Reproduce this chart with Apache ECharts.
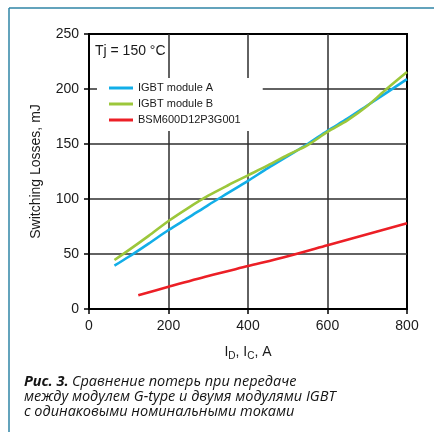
<!DOCTYPE html>
<html>
<head>
<meta charset="utf-8">
<style>
  html, body { margin: 0; padding: 0; background: #fff; }
  #chart { width: 434px; height: 432px; }
</style>
<script src="https://cdn.jsdelivr.net/npm/echarts@6/dist/echarts.min.js"></script>
</head>
<body>
<div id="chart"></div>
<script>
// Switching losses vs. current at Tj = 150 °C
const seriesNames = ['IGBT module A', 'IGBT module B', 'BSM600D12P3G001'];

const currentA = [64, 100, 150, 200, 250, 300, 350, 400, 450, 500, 550, 600, 650, 700, 750, 800];
const lossesA  = [39.4, 47.5, 59.5, 71.8, 83, 94.5, 105.5, 116.5, 128, 139, 150, 162, 173, 185, 197, 209];

const currentB = [64, 100, 150, 200, 250, 300, 350, 400, 450, 500, 550, 600, 650, 700, 750, 800];
const lossesB  = [44.5, 53.5, 66.5, 80, 92, 103, 112.5, 121.5, 130.5, 140, 149, 161, 171.5, 184.5, 200.5, 215.5];

const currentG = [124, 200, 300, 400, 500, 600, 700, 800];
const lossesG  = [12.5, 20.2, 30, 39, 48, 58, 68, 78];

const xTicks = { min: 0, max: 800, step: 200 };
const yTicks = { min: 0, max: 250, step: 50 };

const colors = ['#12aee8', '#9cc73b', '#ec1f26'];

function pairs(xs, ys) { return xs.map((x, i) => [x, ys[i]]); }

const chart = echarts.init(document.getElementById('chart'), null, { renderer: 'canvas' });

const axisText = { color: '#1a1a1a', fontSize: 14, fontFamily: 'Liberation Sans, Arial, sans-serif' };

chart.setOption({
  animation: false,
  backgroundColor: '#fff',
  grid: {
    left: 89, right: 27, top: 34, bottom: 123,
    show: true, borderColor: '#000', borderWidth: 2, backgroundColor: 'transparent'
  },
  xAxis: {
    type: 'value', min: xTicks.min, max: xTicks.max, interval: xTicks.step,
    name: '{n|I}{s|D}{n|, I}{s|C}{n|, A}',
    nameLocation: 'middle', nameGap: 34,
    nameTextStyle: {
      rich: {
        n: { fontSize: 14, color: '#1a1a1a', fontFamily: 'Liberation Sans, Arial, sans-serif' },
        s: { fontSize: 10, color: '#1a1a1a', fontFamily: 'Liberation Sans, Arial, sans-serif', padding: [8, 0, 0, 0] }
      }
    },
    axisLine: { show: true, lineStyle: { color: '#000', width: 2 } },
    axisTick: { show: true, length: 5, inside: false, lineStyle: { color: '#000', width: 1.5 } },
    axisLabel: Object.assign({ margin: 10 }, axisText),
    splitLine: { show: true, showMinLine: false, showMaxLine: false, lineStyle: { color: '#2e2e2e', width: 1.5 } }
  },
  yAxis: {
    type: 'value', min: yTicks.min, max: yTicks.max, interval: yTicks.step,
    name: 'Switching Losses, mJ',
    nameLocation: 'middle', nameGap: 46,
    nameTextStyle: axisText,
    axisLine: { show: true, lineStyle: { color: '#000', width: 2 } },
    axisTick: { show: true, length: 5, inside: false, lineStyle: { color: '#000', width: 1.5 } },
    axisLabel: Object.assign({ margin: 10 }, axisText),
    splitLine: { show: true, showMinLine: false, showMaxLine: false, lineStyle: { color: '#2e2e2e', width: 1.5 } }
  },
  legend: {
    orient: 'vertical',
    left: 97, top: 78,
    backgroundColor: '#fff',
    padding: [4, 22, 5, 12],
    itemGap: 4,
    itemWidth: 24, itemHeight: 3,
    icon: 'rect',
    data: seriesNames,
    textStyle: { fontSize: 11, color: '#1a1a1a', fontFamily: 'Liberation Sans, Arial, sans-serif', lineHeight: 12 }
  },
  series: [
    { name: seriesNames[0], type: 'line', data: pairs(currentA, lossesA), smooth: 0.3, showSymbol: false,
      lineStyle: { color: colors[0], width: 2.6 }, itemStyle: { color: colors[0] }, z: 3 },
    { name: seriesNames[1], type: 'line', data: pairs(currentB, lossesB), smooth: 0.3, showSymbol: false,
      lineStyle: { color: colors[1], width: 2.6 }, itemStyle: { color: colors[1] }, z: 4 },
    { name: seriesNames[2], type: 'line', data: pairs(currentG, lossesG), smooth: 0.3, showSymbol: false,
      lineStyle: { color: colors[2], width: 2.6 }, itemStyle: { color: colors[2] }, z: 3 }
  ],
  graphic: [
    // page frame
    { type: 'line', shape: { x1: 9, y1: 8, x2: 434, y2: 8 }, style: { stroke: '#2f84a6', lineWidth: 1.5 }, z: 10 },
    { type: 'line', shape: { x1: 9, y1: 8, x2: 9, y2: 432 }, style: { stroke: '#2f84a6', lineWidth: 1.5 }, z: 10 },
    // temperature note
    { type: 'text', left: 95, top: 44, style: { text: 'Tj = 150 °C', fill: '#1a1a1a', font: '14px "Liberation Sans", Arial, sans-serif' }, z: 10 },
    // figure caption
    {
      type: 'text', left: 24, top: 374, z: 10,
      style: {
        text: '{b|Рис. 3.} {i|Сравнение потерь при передаче}\n{i|между модулем G-type и двумя модулями IGBT}\n{i|с одинаковыми номинальными токами}',
        rich: {
          b: { fontSize: 14.5, fontStyle: 'italic', fontWeight: 'bold', fill: '#141414', fontFamily: 'Open Sans', lineHeight: 15 },
          i: { fontSize: 14.5, fontStyle: 'italic', fontWeight: 500, fill: '#141414', fontFamily: 'Open Sans', lineHeight: 15 }
        }
      }
    }
  ]
});
</script>
</body>
</html>
